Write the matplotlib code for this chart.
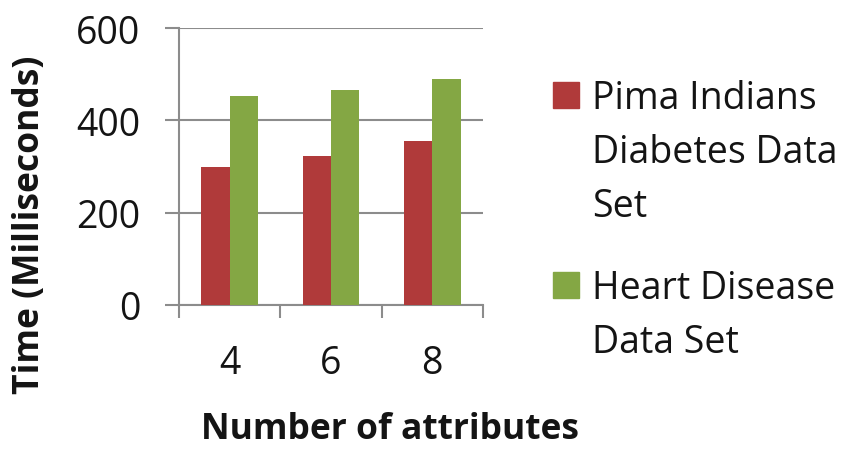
import matplotlib
matplotlib.use("Agg")
import matplotlib.pyplot as plt
import numpy as np
from matplotlib.patches import Rectangle

categories = ["4", "6", "8"]
series_names = ["Pima Indians\nDiabetes Data\nSet", "Heart Disease\nData Set"]
pima_times = [300, 323, 355]
heart_times = [452, 466, 490]
y_ticks = [0, 200, 400, 600]

colors = ["#B03A3A", "#84A744"]
text_color = "#141414"
line_color = "#8C8C8C"

plt.rcParams["font.family"] = ["Open Sans", "DejaVu Sans"]

W, H = 848, 452
fig = plt.figure(figsize=(W / 100, H / 100), dpi=100)
ax = fig.add_axes([179 / W, 1 - 305.7 / H, 304 / W, 276.4 / H])

x = np.arange(len(categories))
width = 0.28
ax.bar(x - width / 2, pima_times, width, color=colors[0], zorder=3)
ax.bar(x + width / 2, heart_times, width, color=colors[1], zorder=3)

ax.set_xlim(-0.5, len(categories) - 0.5)
ax.set_ylim(0, 600)
ax.set_yticks(y_ticks)
ax.set_yticklabels([str(v) for v in y_ticks], fontsize=27, color=text_color)
ax.set_xticks(x)
ax.set_xticklabels(categories, fontsize=27, color=text_color)
ax.tick_params(axis="x", length=0, pad=28)
ax.tick_params(axis="y", length=10, width=1.5, color=line_color, pad=18)

# category boundary ticks below the x axis
ax.set_xticks(np.arange(len(categories) + 1) - 0.5, minor=True)
ax.tick_params(axis="x", which="minor", length=9, width=1.5, color=line_color)

ax.yaxis.grid(True, color=line_color, linewidth=1.5, zorder=0)
for side in ["top", "right"]:
    ax.spines[side].set_visible(False)
for side in ["left", "bottom"]:
    ax.spines[side].set_color(line_color)
    ax.spines[side].set_linewidth(1.5)

fig.text(390 / W, 1 - 430 / H, "Number of attributes", fontsize=25.5,
         fontweight="bold", color=text_color, ha="center", va="center")
fig.text(30 / W, 1 - 225 / H, "Time (Milliseconds)", fontsize=25.5,
         fontweight="bold", color=text_color, ha="center", va="center",
         rotation=90)

# legend: colour square aligned with the first line of each label
legend_baselines = [109, 299]
line_step = 54
for name, color, base in zip(series_names, colors, legend_baselines):
    fig.patches.append(Rectangle((553 / W, 1 - base / H), 26 / W, 26 / H,
                                 transform=fig.transFigure, color=color))
    for i, line in enumerate(name.split("\n")):
        fig.text(592 / W, 1 - (base + i * line_step) / H, line, fontsize=27,
                 color=text_color, va="baseline", ha="left")

fig.savefig("out.png", dpi=100)
